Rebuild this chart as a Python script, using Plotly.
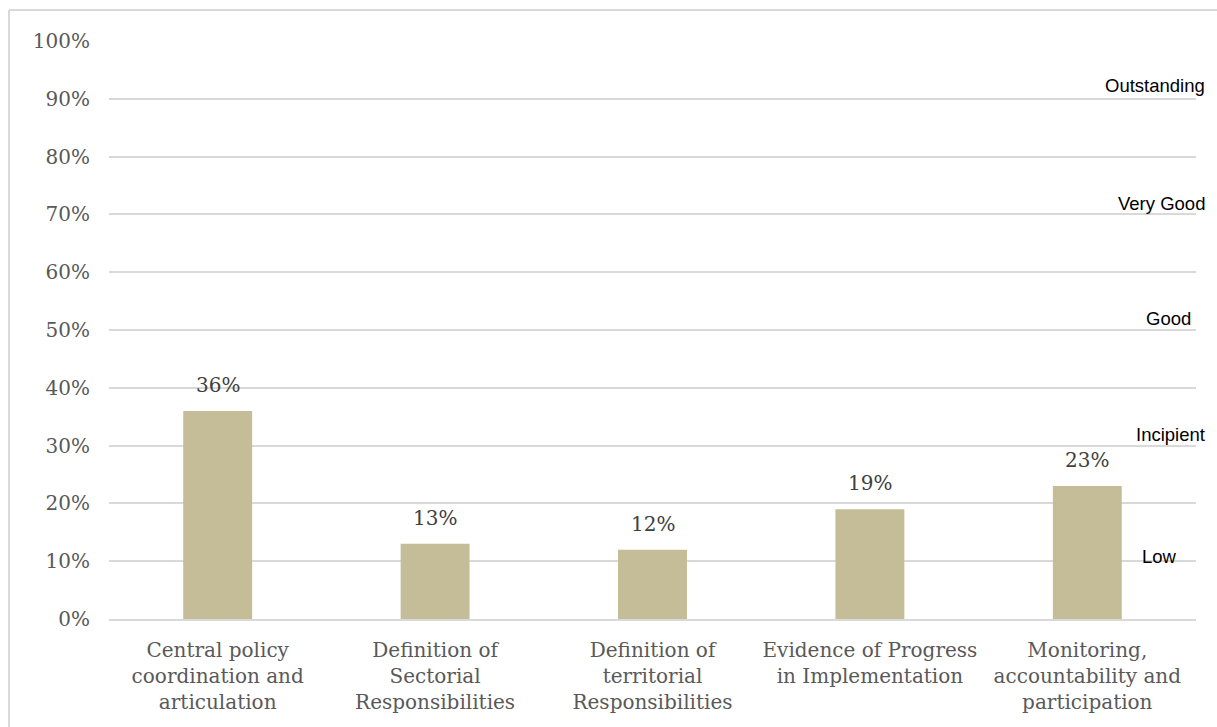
import plotly.graph_objects as go

# Scores per governance dimension
categories = [
    "Central policy<br>coordination and<br>articulation",
    "Definition of<br>Sectorial<br>Responsibilities",
    "Definition of<br>territorial<br>Responsibilities",
    "Evidence of Progress<br>in Implementation",
    "Monitoring,<br>accountability and<br>participation",
]
scores = [0.36, 0.13, 0.12, 0.19, 0.23]

# Rating bands shown along the right edge
band_labels = ["Outstanding", "Very Good", "Good", "Incipient", "Low"]
band_levels = [0.90, 0.70, 0.50, 0.30, 0.10]
band_right_px = [1207, 1207, 1193, 1207, 1179]   # right edge of each label, px
band_drop_px = [-5, -2, -3, -3, 4]               # baseline offset from level, px

W, H = 1217, 727
ML, MR, MT, MB = 109, 21, 41, 108
PW, PH = W - ML - MR, H - MT - MB

SERIF = "DejaVu Serif"
GREY = "#595959"
GRID = "#D9D9D9"

fig = go.Figure()
fig.add_trace(go.Bar(
    x=categories,
    y=scores,
    marker=dict(color="#C4BD97", line=dict(width=0)),
    width=0.317,
    hoverinfo="skip",
))

annotations = []
for c, v in zip(categories, scores):
    annotations.append(dict(
        x=c, y=v, xref="x", yref="y",
        text=f"{v:.0%}", showarrow=False,
        yanchor="bottom", yshift=12,
        font=dict(family=SERIF, size=20, color="#404040"),
    ))

for lab, lvl, rx, dy in zip(band_labels, band_levels, band_right_px, band_drop_px):
    annotations.append(dict(
        x=(rx - ML) / PW, y=lvl, xref="paper", yref="y",
        text=lab, showarrow=False,
        xanchor="right", yanchor="bottom", yshift=-4 - dy,
        font=dict(family="Liberation Sans, Arial", size=18.5, color="#000000"),
    ))

# Chart-area frame (top and left edges)
def px_x(p):
    return (p - ML) / PW

def px_y(p):
    return (H - MB - p) / PH

shapes = [
    dict(type="line", xref="paper", yref="paper",
         x0=px_x(9), x1=px_x(1220), y0=px_y(10), y1=px_y(10),
         line=dict(color=GRID, width=2)),
    dict(type="line", xref="paper", yref="paper",
         x0=px_x(9), x1=px_x(9), y0=px_y(10), y1=px_y(730),
         line=dict(color=GRID, width=2)),
]

fig.update_layout(
    width=W, height=H,
    margin=dict(l=ML, r=MR, t=MT, b=MB, pad=0),
    paper_bgcolor="white",
    plot_bgcolor="white",
    showlegend=False,
    annotations=annotations,
    shapes=shapes,
    bargap=0.683,
)

fig.update_xaxes(
    type="category",
    showgrid=False,
    showline=True, linecolor=GRID, linewidth=1.5,
    ticks="", ticklabelstandoff=12,
    tickfont=dict(family=SERIF, size=20, color=GREY),
)
fig.update_yaxes(
    range=[0, 1], dtick=0.1, tickformat=".0%",
    showgrid=True, gridcolor=GRID, gridwidth=1.5,
    zeroline=False, showline=False,
    ticks="", ticklabelstandoff=18,
    tickfont=dict(family=SERIF, size=20, color=GREY),
)

fig.write_html("out.html")
